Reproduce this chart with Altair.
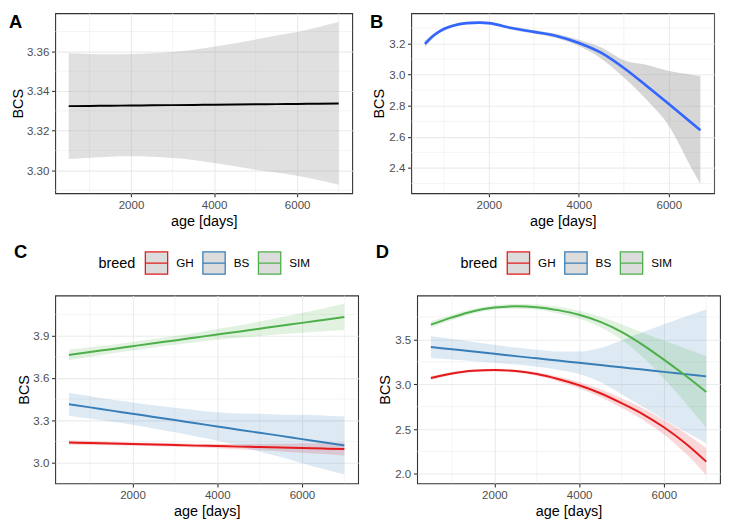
import altair as alt
import pandas as pd

FONT = "Liberation Sans"
GRID = "#EBEBEB"

# ---------------- tick / grid values ----------------
x_ticks = [2000, 4000, 6000]
x_minor = [1000, 3000, 5000, 7000]
y_ticks_a = [3.30, 3.32, 3.34, 3.36]
y_minor_a = [3.29, 3.31, 3.33, 3.35, 3.37]
y_ticks_b = [2.4, 2.6, 2.8, 3.0, 3.2]
y_minor_b = [2.3, 2.5, 2.7, 2.9, 3.1, 3.3]
y_ticks_c = [3.0, 3.3, 3.6, 3.9]
y_minor_c = [3.15, 3.45, 3.75, 4.05]
y_ticks_d = [2.0, 2.5, 3.0, 3.5]
y_minor_d = [2.25, 2.75, 3.25, 3.75]

xdom_a = [175, 7325]
ydom_a = [3.2885, 3.3792]
xdom_b = [275, 7005]
ydom_b = [2.237, 3.395]
xdom_c = [175, 7325]
ydom_c = [2.854, 4.184]
xdom_d = [175, 7325]
ydom_d = [1.895, 3.99]

# ---------------- Panel A: overall linear fit ----------------
age_a = [500, 1000, 1500, 2000, 2500, 3000, 3500, 4000, 4500, 5000, 5500, 6000, 6500, 7000]
fit_a = [3.3324, 3.3325, 3.3326, 3.3327, 3.3328, 3.3329, 3.3330, 3.3331, 3.3332, 3.3333, 3.3334, 3.3335, 3.3336, 3.3337]
upper_a = [3.3590, 3.3587, 3.3585, 3.3586, 3.3590, 3.3597, 3.3608, 3.3623, 3.3641, 3.3660, 3.3680, 3.3698, 3.3722, 3.3748]
lower_a = [3.3057, 3.3064, 3.3069, 3.3071, 3.3069, 3.3063, 3.3053, 3.3037, 3.3021, 3.3003, 3.2989, 3.2973, 3.2951, 3.2928]

# ---------------- Panel B: overall loess fit ----------------
age_b = [580, 800, 1000, 1200, 1500, 1800, 2000, 2500, 3000, 3500, 4000, 4500, 5000, 5500, 6000, 6500, 6700]
fit_b = [3.198, 3.258, 3.294, 3.315, 3.331, 3.335, 3.331, 3.300, 3.275, 3.249, 3.204, 3.140, 3.043, 2.929, 2.811, 2.690, 2.642]
upper_b = [3.218, 3.270, 3.304, 3.324, 3.339, 3.343, 3.339, 3.309, 3.286, 3.263, 3.224, 3.174, 3.093, 3.063, 3.023, 3.000, 2.992]
lower_b = [3.178, 3.246, 3.284, 3.306, 3.323, 3.327, 3.323, 3.291, 3.264, 3.235, 3.184, 3.103, 2.982, 2.840, 2.670, 2.400, 2.297]

# ---------------- Panels C / D: by breed ----------------
breeds = ["GH", "BS", "SIM"]
breed_colors = ["#E41A1C", "#377EB8", "#4DAF4A"]
age_cd = [500, 1000, 1500, 2000, 2500, 3000, 3500, 4000, 4500, 5000, 5500, 6000, 6500, 7000]

fit_c_gh = [3.143, 3.139, 3.136, 3.132, 3.129, 3.125, 3.121, 3.118, 3.114, 3.111, 3.107, 3.104, 3.100, 3.097]
hw_c_gh = [0.016, 0.014, 0.013, 0.012, 0.012, 0.012, 0.013, 0.015, 0.018, 0.022, 0.027, 0.033, 0.039, 0.046]
fit_c_bs = [3.414, 3.392, 3.369, 3.347, 3.324, 3.302, 3.279, 3.257, 3.234, 3.212, 3.190, 3.167, 3.145, 3.122]
hw_c_bs = [0.081, 0.079, 0.078, 0.079, 0.082, 0.087, 0.093, 0.100, 0.115, 0.135, 0.150, 0.170, 0.190, 0.206]
fit_c_sim = [3.763, 3.784, 3.804, 3.825, 3.846, 3.866, 3.887, 3.908, 3.928, 3.949, 3.970, 3.990, 4.011, 4.032]
hw_c_sim = [0.038, 0.034, 0.031, 0.030, 0.030, 0.031, 0.034, 0.038, 0.044, 0.051, 0.060, 0.070, 0.081, 0.093]

fit_d_gh = [3.070, 3.121, 3.151, 3.158, 3.147, 3.114, 3.059, 2.989, 2.900, 2.790, 2.668, 2.520, 2.345, 2.137]
hw_d_gh = [0.022, 0.017, 0.015, 0.015, 0.016, 0.020, 0.027, 0.035, 0.043, 0.053, 0.065, 0.080, 0.110, 0.153]
fit_d_bs = [3.415, 3.390, 3.365, 3.340, 3.314, 3.289, 3.264, 3.239, 3.214, 3.189, 3.164, 3.138, 3.113, 3.088]
hw_d_bs = [0.123, 0.115, 0.107, 0.100, 0.095, 0.095, 0.102, 0.125, 0.190, 0.300, 0.415, 0.530, 0.640, 0.745]
fit_d_sim = [3.665, 3.746, 3.815, 3.855, 3.869, 3.860, 3.827, 3.775, 3.695, 3.585, 3.440, 3.275, 3.100, 2.914]
hw_d_sim = [0.035, 0.030, 0.026, 0.025, 0.026, 0.030, 0.037, 0.045, 0.058, 0.085, 0.135, 0.210, 0.300, 0.400]


def breed_frame(fits, hws):
    rows = []
    for b, f, h in zip(breeds, fits, hws):
        for a, fv, hv in zip(age_cd, f, h):
            rows.append({"age": a, "fit": fv, "lo": fv - hv, "hi": fv + hv, "breed": b})
    return pd.DataFrame(rows)


df_c = breed_frame([fit_c_gh, fit_c_bs, fit_c_sim], [hw_c_gh, hw_c_bs, hw_c_sim])
df_d = breed_frame([fit_d_gh, fit_d_bs, fit_d_sim], [hw_d_gh, hw_d_bs, hw_d_sim])


# ---------------- helpers ----------------
def xaxis():
    return alt.Axis(values=x_ticks, format="d", title="age [days]", grid=True, gridColor=GRID,
                    gridWidth=1.1, domain=False, tickColor="#333333", tickSize=3.7, tickWidth=1.1,
                    labelColor="#4D4D4D", labelFont=FONT, labelFontSize=11.7, labelPadding=2.8,
                    labelFlush=False, labelOverlap=False,
                    titleFont=FONT, titleFontSize=14.67, titleFontWeight="normal",
                    titleColor="black", titlePadding=2.5)


def yaxis(ticks, fmt, tp):
    return alt.Axis(values=ticks, format=fmt, title="BCS", grid=True, gridColor=GRID,
                    gridWidth=1.1, domain=False, tickColor="#333333", tickSize=3.7, tickWidth=1.1,
                    labelColor="#4D4D4D", labelFont=FONT, labelFontSize=11.7, labelPadding=2.8,
                    labelFlush=False, labelOverlap=False,
                    titleFont=FONT, titleFontSize=14.67, titleFontWeight="normal",
                    titleColor="black", titlePadding=tp)


def X(field, dom):
    return alt.X(f"{field}:Q", scale=alt.Scale(domain=dom, nice=False, zero=False), axis=xaxis())


def Y(field, dom, yt, fmt, tp):
    return alt.Y(f"{field}:Q", scale=alt.Scale(domain=dom, nice=False, zero=False),
                 axis=yaxis(yt, fmt, tp))


def minor(xdom, ydom, yt, ym, fmt, tp):
    mx = alt.Chart(pd.DataFrame({"mx": x_minor})).mark_rule(color=GRID, strokeWidth=0.55).encode(
        x=X("mx", xdom))
    my = alt.Chart(pd.DataFrame({"my": ym})).mark_rule(color=GRID, strokeWidth=0.55).encode(
        y=Y("my", ydom, yt, fmt, tp))
    return [mx, my]


def tag(letter, dx, dy):
    return alt.Chart(pd.DataFrame({"tag": [letter]})).mark_text(
        align="left", baseline="top", font=FONT, fontSize=18.67, fontWeight="bold", color="black"
    ).encode(x=alt.value(dx), y=alt.value(dy), text="tag:N")


def breed_legend():
    return alt.Legend(orient="none", legendX=44, legendY=-45, direction="horizontal",
                      title="breed", titleOrient="left", titleAnchor="middle", titleBaseline="middle",
                      titleFont=FONT, titleFontSize=14.67, titleFontWeight="normal",
                      titleColor="black", titlePadding=9,
                      labelFont=FONT, labelFontSize=11.9, labelColor="black", labelOffset=8,
                      columnPadding=6.5,
                      symbolType="M-1,-1H1V1H-1Z M-1,0H1", symbolSize=515,
                      symbolStrokeWidth=1.3, symbolFillColor="#DCDCDC", symbolOpacity=1)


color_scale = alt.Scale(domain=breeds, range=breed_colors)

TP_A, TP_B, TP_C, TP_D = 1.5, 2.8, 1.5, 2.8

# ---------------- Panel A ----------------
df_a = pd.DataFrame({"age": age_a, "fit": fit_a, "lo": lower_a, "hi": upper_a})
band_a = alt.Chart(df_a).mark_area(color="#999999", opacity=0.3, interpolate="monotone").encode(
    x=X("age", xdom_a), y=Y("lo", ydom_a, y_ticks_a, ".2f", TP_A), y2=alt.Y2("hi:Q"))
line_a = alt.Chart(df_a).mark_line(color="black", interpolate="monotone").encode(
    x=X("age", xdom_a), y=Y("fit", ydom_a, y_ticks_a, ".2f", TP_A), strokeWidth=alt.value(2))
panel_a = alt.layer(*minor(xdom_a, ydom_a, y_ticks_a, y_minor_a, ".2f", TP_A), band_a, line_a,
                    tag("A", -47, 0)).properties(width=302, height=183)

# ---------------- Panel B ----------------
df_b = pd.DataFrame({"age": age_b, "fit": fit_b, "lo": lower_b, "hi": upper_b})
band_b = alt.Chart(df_b).mark_area(color="#999999", opacity=0.4, interpolate="monotone").encode(
    x=X("age", xdom_b), y=Y("lo", ydom_b, y_ticks_b, ".1f", TP_B), y2=alt.Y2("hi:Q"))
line_b = alt.Chart(df_b).mark_line(color="#3366FF", interpolate="monotone").encode(
    x=X("age", xdom_b), y=Y("fit", ydom_b, y_ticks_b, ".1f", TP_B), strokeWidth=alt.value(2.7))
panel_b = alt.layer(*minor(xdom_b, ydom_b, y_ticks_b, y_minor_b, ".1f", TP_B), band_b, line_b,
                    tag("B", -42, 0)).properties(width=308, height=183)


# ---------------- Panels C / D ----------------
def breed_panel(df, letter, xdom, ydom, yt, ym, fmt, tp):
    bands = []
    for b, col in zip(breeds, breed_colors):
        bands.append(
            alt.Chart(df[df["breed"] == b]).mark_area(
                color=col, fillOpacity=0.17, interpolate="monotone"
            ).encode(x=X("age", xdom), y=Y("lo", ydom, yt, fmt, tp), y2=alt.Y2("hi:Q"))
        )
    line = alt.Chart(df).mark_line(interpolate="monotone").encode(
        x=X("age", xdom), y=Y("fit", ydom, yt, fmt, tp),
        color=alt.Color("breed:N", scale=color_scale, legend=breed_legend()),
        strokeWidth=alt.value(2))
    return alt.layer(*minor(xdom, ydom, yt, ym, fmt, tp), *bands, line,
                     tag(letter, -42, -53)).properties(width=308, height=191)


panel_c = breed_panel(df_c, "C", xdom_c, ydom_c, y_ticks_c, y_minor_c, ".1f", TP_C)
panel_d = breed_panel(df_d, "D", xdom_d, ydom_d, y_ticks_d, y_minor_d, ".1f", TP_D)

row_ab = alt.hconcat(panel_a, panel_b, spacing=16)
row_cd = alt.hconcat(panel_c, panel_d, spacing=16).resolve_scale(color="independent")
chart = alt.vconcat(row_ab, row_cd, spacing=14).resolve_scale(
    color="independent"
).properties(padding={"left": 0, "top": 0, "right": 0, "bottom": 0}).configure_view(
    stroke="#333333", strokeWidth=1.1)

chart.save("out.html", embed_options={"renderer": "svg", "actions": False})
